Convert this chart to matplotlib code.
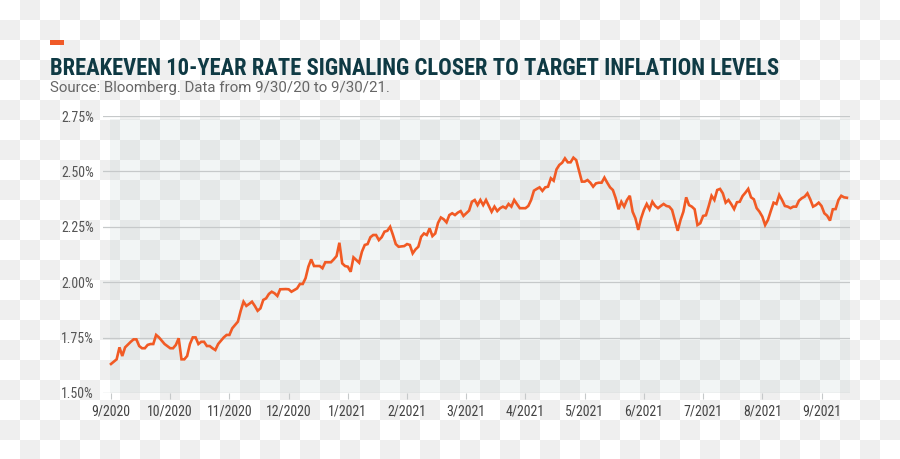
import matplotlib.pyplot as plt
import matplotlib.patches as mpatches
import numpy as np

# データ(取引日インデックスと10年ブレークイーブン率 %)
day_idx = [0, 2, 3, 4, 5, 7, 8, 9, 10, 11, 12, 13, 14, 15, 16, 17, 19, 21, 22, 23,
           24, 25, 26, 27, 28, 29, 30, 31, 32, 33, 34, 35, 36, 37, 38, 40, 41, 42, 43, 45,
           46, 47, 48, 49, 50, 51, 52, 53, 54, 55, 56, 57, 58, 59, 60, 62, 63, 64, 66, 67,
           68, 69, 70, 71, 72, 74, 75, 76, 78, 79, 80, 81, 82, 83, 84, 85, 86, 88, 89, 90,
           91, 92, 93, 94, 95, 96, 97, 98, 99, 100, 101, 102, 104, 105, 106, 107, 108, 109, 110, 111,
           112, 113, 114, 115, 116, 117, 118, 119, 120, 121, 122, 123, 124, 125, 126, 127, 128, 129, 130, 131,
           132, 133, 134, 135, 136, 137, 138, 139, 140, 141, 142, 143, 144, 145, 147, 148, 149, 150, 151, 152,
           153, 154, 155, 156, 157, 158, 159, 160, 161, 162, 163, 164, 165, 167, 168, 169, 170, 171, 172, 173,
           174, 175, 176, 177, 178, 179, 180, 181, 182, 183, 184, 185, 186, 187, 188, 189, 190, 191, 192, 193,
           194, 195, 196, 197, 198, 199, 200, 201, 202, 203, 204, 205, 206, 207, 208, 209, 210, 211, 212, 213,
           214, 215, 216, 217, 218, 219, 220, 221, 222, 223, 224, 225, 226, 227, 228, 229, 230, 231, 232, 233,
           234, 235, 236, 237, 238, 239, 240, 241, 242, 243, 244, 245, 246, 247, 248, 249, 250, 251, 252, 253,
           254, 255, 256, 257, 258, 259, 260, 261]
rate = [1.631, 1.652, 1.706, 1.667, 1.706, 1.731, 1.742, 1.742, 1.712, 1.702, 1.702, 1.717, 1.721, 1.721, 1.762, 1.751, 1.721, 1.702, 1.702, 1.717,
        1.747, 1.652, 1.652, 1.667, 1.721, 1.751, 1.751, 1.721, 1.731, 1.731, 1.712, 1.712, 1.702, 1.694, 1.721, 1.751, 1.762, 1.762, 1.792, 1.822,
        1.871, 1.912, 1.893, 1.902, 1.912, 1.893, 1.871, 1.882, 1.920, 1.927, 1.947, 1.957, 1.950, 1.938, 1.968, 1.969, 1.968, 1.957, 1.972, 1.992,
        1.992, 2.018, 2.070, 2.103, 2.073, 2.073, 2.063, 2.090, 2.090, 2.103, 2.118, 2.178, 2.085, 2.073, 2.070, 2.047, 2.112, 2.088, 2.138, 2.168,
        2.172, 2.203, 2.213, 2.213, 2.190, 2.203, 2.228, 2.232, 2.250, 2.213, 2.172, 2.160, 2.163, 2.172, 2.168, 2.130, 2.148, 2.160, 2.205, 2.220,
        2.213, 2.243, 2.208, 2.220, 2.268, 2.292, 2.284, 2.270, 2.303, 2.311, 2.303, 2.314, 2.321, 2.299, 2.311, 2.323, 2.363, 2.371, 2.348, 2.371,
        2.348, 2.371, 2.344, 2.318, 2.341, 2.321, 2.334, 2.341, 2.334, 2.353, 2.341, 2.371, 2.352, 2.334, 2.334, 2.344, 2.371, 2.413, 2.421, 2.428,
        2.412, 2.428, 2.431, 2.469, 2.458, 2.509, 2.529, 2.539, 2.559, 2.541, 2.541, 2.562, 2.551, 2.454, 2.454, 2.461, 2.449, 2.431, 2.446, 2.449,
        2.449, 2.472, 2.449, 2.428, 2.416, 2.379, 2.329, 2.363, 2.341, 2.371, 2.390, 2.318, 2.288, 2.236, 2.288, 2.326, 2.353, 2.329, 2.363, 2.344,
        2.334, 2.344, 2.353, 2.344, 2.341, 2.326, 2.278, 2.232, 2.281, 2.318, 2.383, 2.348, 2.341, 2.329, 2.258, 2.266, 2.299, 2.302, 2.344, 2.390,
        2.371, 2.416, 2.421, 2.401, 2.359, 2.371, 2.352, 2.330, 2.361, 2.363, 2.389, 2.404, 2.421, 2.383, 2.374, 2.334, 2.318, 2.296, 2.258, 2.281,
        2.321, 2.359, 2.353, 2.394, 2.371, 2.344, 2.341, 2.334, 2.341, 2.341, 2.368, 2.379, 2.386, 2.401, 2.374, 2.341, 2.348, 2.359, 2.344, 2.311,
        2.300, 2.278, 2.329, 2.330, 2.371, 2.390, 2.383, 2.381]

month_pos = [0, 21, 42, 63, 84, 105, 126, 147, 168, 189, 210, 231, 252]
month_labels = ["9/2020", "10/2020", "11/2020", "12/2020", "1/2021", "2/2021", "3/2021",
                "4/2021", "5/2021", "6/2021", "7/2021", "8/2021", "9/2021"]
y_ticks = [1.50, 1.75, 2.00, 2.25, 2.50, 2.75]

title = "BREAKEVEN 10-YEAR RATE SIGNALING CLOSER TO TARGET INFLATION LEVELS"
subtitle = "Source: Bloomberg. Data from 9/30/20 to 9/30/21."

orange = "#f15a24"
label_font = ["Roboto", "DejaVu Sans"]
narrow_font = ["Roboto Condensed", "Roboto", "DejaVu Sans"]

fig = plt.figure(figsize=(9, 4.59), dpi=100)

# 背景の市松模様(元画像に焼き込まれている)
bg = fig.add_axes([0, 0, 1, 1], zorder=-10)
rows, cols = np.indices((23, 45))
checker = np.where((rows + cols) % 2 == 1, 0.937, 1.0)
bg.imshow(checker, cmap="gray", vmin=0, vmax=1, extent=(0, 900, 460, 0),
          interpolation="nearest", aspect="auto")
bg.set_xlim(0, 900)
bg.set_ylim(459, 0)
bg.axis("off")

# 本体のグラフ
ax = fig.add_axes([103 / 900, 66 / 459, 747 / 900, 277 / 459])
ax.patch.set_alpha(0)
ax.add_patch(mpatches.Rectangle((-0.35, 1.50), 263, 1.236, facecolor="#bacacf",
                                alpha=0.19, edgecolor="none", zorder=0))
ax.plot(day_idx, rate, color=orange, linewidth=1.9, zorder=3, solid_joinstyle="miter")

ax.set_xlim(-2.84, 262.1)
ax.set_ylim(1.50, 2.75)
ax.set_yticks(y_ticks)
ax.set_yticklabels([f"{v:.2f}%" for v in y_ticks])
ax.set_xticks(month_pos)
ax.set_xticklabels(month_labels)
ax.grid(axis="y", color="#c6c9ca", linewidth=0.9, zorder=1)
ax.set_axisbelow(True)
for s in ax.spines.values():
    s.set_visible(False)
ax.tick_params(axis="y", length=0, pad=6.5, labelsize=10, labelcolor="#555555")
ax.tick_params(axis="x", length=4, width=0.8, color="#c6c9ca", pad=4,
               labelsize=10, labelcolor="#444444")
for lab in ax.get_xticklabels() + ax.get_yticklabels():
    lab.set_family(narrow_font)

# タイトルなど
fig.patches.append(mpatches.Rectangle((50 / 900, 1 - 45 / 459), 14 / 900, 5 / 459,
                                      transform=fig.transFigure, facecolor="#f05a28",
                                      edgecolor="none"))
fig.text(50 / 900, 1 - 75 / 459, title, family=narrow_font, fontweight="bold",
         fontsize=16.3, color="#0f3a44", ha="left", va="baseline")
fig.text(50 / 900, 1 - 92 / 459, subtitle, family=label_font, fontsize=10.85,
         color="#666666", ha="left", va="baseline")

fig.savefig("out.png", dpi=100)
